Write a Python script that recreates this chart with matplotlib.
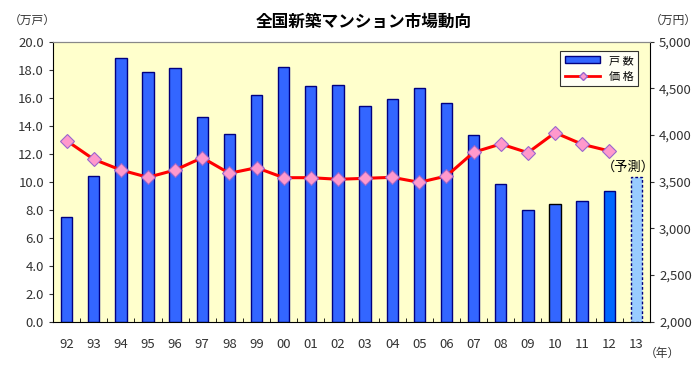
import matplotlib
matplotlib.use("Agg")
import matplotlib.pyplot as plt
import numpy as np
from matplotlib.patches import Patch
from matplotlib.lines import Line2D

plt.rcParams['font.family'] = ['Noto Sans CJK JP', 'DejaVu Sans']

years = ["92","93","94","95","96","97","98","99","00","01","02",
         "03","04","05","06","07","08","09","10","11","12","13"]
units = [7.5,10.4,18.8,17.8,18.1,14.6,13.4,16.2,18.2,16.8,16.9,
         15.4,15.9,16.7,15.6,13.3,9.8,8.0,8.4,8.6,9.3,10.3]
prices = [3940,3740,3625,3547,3625,3757,3590,3650,3543,3543,3526,
          3536,3547,3493,3561,3815,3904,3811,4025,3901,3829]

fig = plt.figure(figsize=(7, 3.65), dpi=100)
ax = fig.add_axes([0.0757, 0.1186, 0.8529, 0.7672])
ax.set_facecolor('#FFFFCC')
x = np.arange(len(years))

face = ['#3366FF'] * len(years)
edge = ['#000080'] * len(years)
edge[18] = '#000000'
face[20] = '#0066FF'
face[21] = '#99CCFF'
bars = ax.bar(x, units, width=0.42, color=face, edgecolor=edge, linewidth=1.0, zorder=2)
bars[21].set_linestyle((0, (2, 1.5)))
bars[21].set_edgecolor('#000080')

ax.set_xlim(-0.5, len(years) - 0.5)
ax.set_ylim(0, 20)
ax.set_yticks(np.arange(0, 20.1, 2))
ax.set_yticklabels([f"{v:.1f}" for v in np.arange(0, 20.1, 2)], fontsize=9.5, color='#333333')
ax.set_xticks(x)
ax.set_xticklabels(years, fontsize=9.5, color='#333333')
ax.tick_params(axis='x', length=0, pad=12)
ax.set_xticks(np.arange(-0.5, len(years), 1), minor=True)
ax.tick_params(axis='x', which='minor', direction='in', length=3, color='#000000')
ax.tick_params(axis='y', direction='out', length=3, color='#333333')
ax.spines['top'].set_color('#888888')
ax.spines['left'].set_color('#000000')
ax.spines['bottom'].set_color('#000000')
ax.spines['right'].set_visible(False)

ax2 = ax.twinx()
ax2.patch.set_visible(False)
ax2.plot(x[:len(prices)], prices, color='#FF0000', linewidth=2.2,
         marker='D', markersize=7, markerfacecolor='#FF99CC',
         markeredgecolor='#9966CC', markeredgewidth=0.8, zorder=3)
ax2.set_ylim(2000, 5000)
ax2.set_yticks(np.arange(2000, 5001, 500))
ax2.set_yticklabels([f"{v:,}" for v in range(2000, 5001, 500)], fontsize=9.5, color='#333333')
ax2.tick_params(axis='y', direction='out', length=3, color='#333333')
ax2.spines['right'].set_color('#000000')
ax2.spines['top'].set_color('#888888')
ax2.spines['left'].set_visible(False)
ax2.spines['bottom'].set_visible(False)

handles = [Patch(facecolor='#3366FF', edgecolor='#000080'),
           Line2D([0], [0], color='#FF0000', linewidth=2, marker='D', markersize=4,
                  markerfacecolor='#FF99CC', markeredgecolor='#9966CC')]
leg = ax2.legend(handles, ['戸 数', '価 格'], loc='upper right',
                 bbox_to_anchor=(0.99, 0.985), fontsize=8, frameon=True,
                 fancybox=False, edgecolor='#000000', handlelength=3.2,
                 handleheight=0.6, borderpad=0.4, labelspacing=0.5)
leg.get_frame().set_linewidth(0.8)
leg.get_frame().set_facecolor('#FFFFFF')

ax.text(20.7, 11.0, '（予測）', fontsize=9.5, ha='center', va='center', color='#000000', zorder=4)

fig.text(0.52, 0.94, '全国新築マンション市場動向', ha='center', va='center',
         fontsize=12, fontweight='bold', color='#000000')
fig.text(0.046, 0.945, '（万戸）', ha='center', va='center', fontsize=8.5, color='#333333')
fig.text(0.995, 0.945, '（万円）', ha='right', va='center', fontsize=8.5, color='#333333')
fig.text(0.946, 0.033, '（年）', ha='center', va='center', fontsize=8.5, color='#333333')

fig.savefig('out.png', dpi=100, facecolor='white')
